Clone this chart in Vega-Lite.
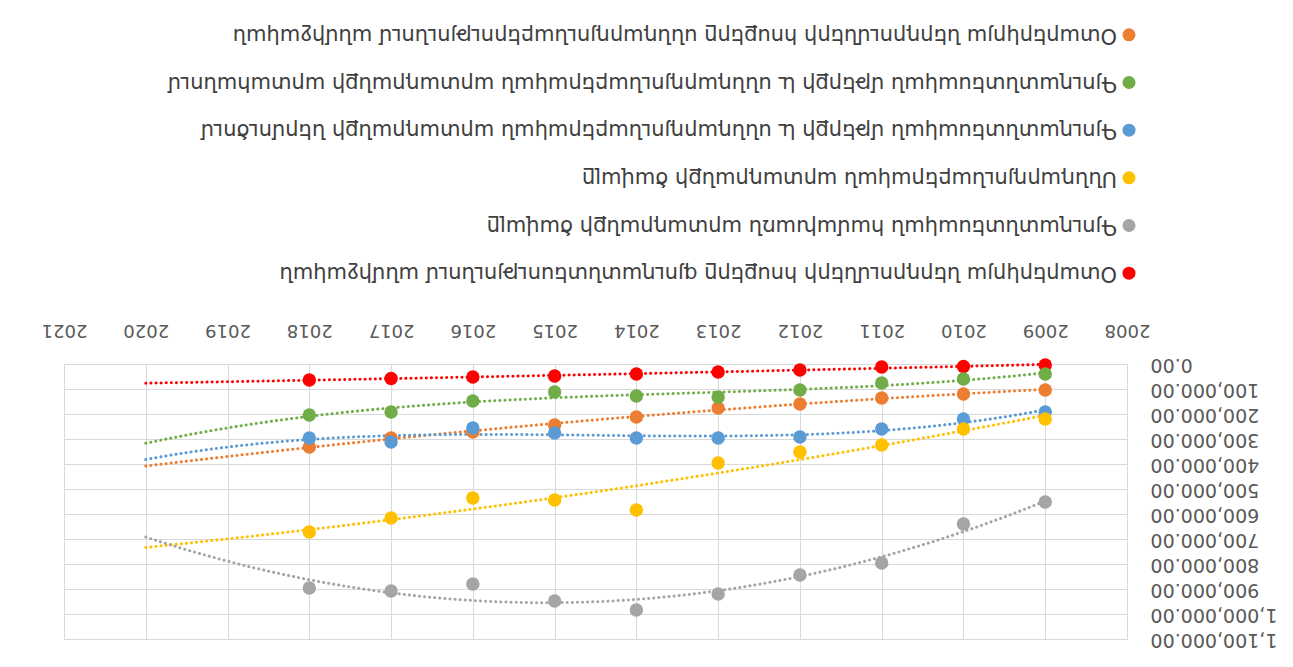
{
  "$schema": "https://vega.github.io/schema/vega-lite/v6.json",
  "background": "white",
  "padding": {"left": 40, "top": 11, "right": 5, "bottom": 5},
  "config": {"font": "DejaVu Sans", "view": {"stroke": null}, "concat": {"spacing": 22}},
  "datasets": {
    "series": [
      {"name": "Օտարերկրյա ներդրումների հոսքերը սննդարդյունաբերությունում անմիջական"},
      {"name": "Գյուղատնտեսական մթերքի և սննդարդյունաբերական արտադրանքի արտահանում"},
      {"name": "Գյուղատնտեսական մթերքի և սննդարդյունաբերական արտադրանքի ներմուծում"},
      {"name": "Սննդարդյունաբերական արտադրանքի ծավալը"},
      {"name": "Գյուղատնտեսական համախառն արտադրանքի ծավալը"},
      {"name": "Օտարերկրյա ներդրումների հոսքերը գյուղատնտեսությունում անմիջական"}
    ],
    "values": [
      {"series": "Օտարերկրյա ներդրումների հոսքերը գյուղատնտեսությունում անմիջական", "year": 2009, "value": 4000},
      {"series": "Օտարերկրյա ներդրումների հոսքերը գյուղատնտեսությունում անմիջական", "year": 2010, "value": 10000},
      {"series": "Օտարերկրյա ներդրումների հոսքերը գյուղատնտեսությունում անմիջական", "year": 2011, "value": 12000},
      {"series": "Օտարերկրյա ներդրումների հոսքերը գյուղատնտեսությունում անմիջական", "year": 2012, "value": 24000},
      {"series": "Օտարերկրյա ներդրումների հոսքերը գյուղատնտեսությունում անմիջական", "year": 2013, "value": 32000},
      {"series": "Օտարերկրյա ներդրումների հոսքերը գյուղատնտեսությունում անմիջական", "year": 2014, "value": 40000},
      {"series": "Օտարերկրյա ներդրումների հոսքերը գյուղատնտեսությունում անմիջական", "year": 2015, "value": 48000},
      {"series": "Օտարերկրյա ներդրումների հոսքերը գյուղատնտեսությունում անմիջական", "year": 2016, "value": 52000},
      {"series": "Օտարերկրյա ներդրումների հոսքերը գյուղատնտեսությունում անմիջական", "year": 2017, "value": 58000},
      {"series": "Օտարերկրյա ներդրումների հոսքերը գյուղատնտեսությունում անմիջական", "year": 2018, "value": 64000},
      {"series": "Օտարերկրյա ներդրումների հոսքերը սննդարդյունաբերությունում անմիջական", "year": 2009, "value": 104000},
      {"series": "Օտարերկրյա ներդրումների հոսքերը սննդարդյունաբերությունում անմիջական", "year": 2010, "value": 120000},
      {"series": "Օտարերկրյա ներդրումների հոսքերը սննդարդյունաբերությունում անմիջական", "year": 2011, "value": 136000},
      {"series": "Օտարերկրյա ներդրումների հոսքերը սննդարդյունաբերությունում անմիջական", "year": 2012, "value": 160000},
      {"series": "Օտարերկրյա ներդրումների հոսքերը սննդարդյունաբերությունում անմիջական", "year": 2013, "value": 176000},
      {"series": "Օտարերկրյա ներդրումների հոսքերը սննդարդյունաբերությունում անմիջական", "year": 2014, "value": 212000},
      {"series": "Օտարերկրյա ներդրումների հոսքերը սննդարդյունաբերությունում անմիջական", "year": 2015, "value": 244000},
      {"series": "Օտարերկրյա ներդրումների հոսքերը սննդարդյունաբերությունում անմիջական", "year": 2016, "value": 272000},
      {"series": "Օտարերկրյա ներդրումների հոսքերը սննդարդյունաբերությունում անմիջական", "year": 2017, "value": 296000},
      {"series": "Օտարերկրյա ներդրումների հոսքերը սննդարդյունաբերությունում անմիջական", "year": 2018, "value": 332000},
      {"series": "Գյուղատնտեսական մթերքի և սննդարդյունաբերական արտադրանքի արտահանում", "year": 2009, "value": 40000},
      {"series": "Գյուղատնտեսական մթերքի և սննդարդյունաբերական արտադրանքի արտահանում", "year": 2010, "value": 60000},
      {"series": "Գյուղատնտեսական մթերքի և սննդարդյունաբերական արտադրանքի արտահանում", "year": 2011, "value": 76000},
      {"series": "Գյուղատնտեսական մթերքի և սննդարդյունաբերական արտադրանքի արտահանում", "year": 2012, "value": 104000},
      {"series": "Գյուղատնտեսական մթերքի և սննդարդյունաբերական արտադրանքի արտահանում", "year": 2013, "value": 132000},
      {"series": "Գյուղատնտեսական մթերքի և սննդարդյունաբերական արտադրանքի արտահանում", "year": 2014, "value": 128000},
      {"series": "Գյուղատնտեսական մթերքի և սննդարդյունաբերական արտադրանքի արտահանում", "year": 2015, "value": 112000},
      {"series": "Գյուղատնտեսական մթերքի և սննդարդյունաբերական արտադրանքի արտահանում", "year": 2016, "value": 148000},
      {"series": "Գյուղատնտեսական մթերքի և սննդարդյունաբերական արտադրանքի արտահանում", "year": 2017, "value": 192000},
      {"series": "Գյուղատնտեսական մթերքի և սննդարդյունաբերական արտադրանքի արտահանում", "year": 2018, "value": 204000},
      {"series": "Գյուղատնտեսական մթերքի և սննդարդյունաբերական արտադրանքի ներմուծում", "year": 2009, "value": 192000},
      {"series": "Գյուղատնտեսական մթերքի և սննդարդյունաբերական արտադրանքի ներմուծում", "year": 2010, "value": 220000},
      {"series": "Գյուղատնտեսական մթերքի և սննդարդյունաբերական արտադրանքի ներմուծում", "year": 2011, "value": 260000},
      {"series": "Գյուղատնտեսական մթերքի և սննդարդյունաբերական արտադրանքի ներմուծում", "year": 2012, "value": 292000},
      {"series": "Գյուղատնտեսական մթերքի և սննդարդյունաբերական արտադրանքի ներմուծում", "year": 2013, "value": 296000},
      {"series": "Գյուղատնտեսական մթերքի և սննդարդյունաբերական արտադրանքի ներմուծում", "year": 2014, "value": 296000},
      {"series": "Գյուղատնտեսական մթերքի և սննդարդյունաբերական արտադրանքի ներմուծում", "year": 2015, "value": 276000},
      {"series": "Գյուղատնտեսական մթերքի և սննդարդյունաբերական արտադրանքի ներմուծում", "year": 2016, "value": 256000},
      {"series": "Գյուղատնտեսական մթերքի և սննդարդյունաբերական արտադրանքի ներմուծում", "year": 2017, "value": 312000},
      {"series": "Գյուղատնտեսական մթերքի և սննդարդյունաբերական արտադրանքի ներմուծում", "year": 2018, "value": 296000},
      {"series": "Սննդարդյունաբերական արտադրանքի ծավալը", "year": 2009, "value": 220000},
      {"series": "Սննդարդյունաբերական արտադրանքի ծավալը", "year": 2010, "value": 260000},
      {"series": "Սննդարդյունաբերական արտադրանքի ծավալը", "year": 2011, "value": 324000},
      {"series": "Սննդարդյունաբերական արտադրանքի ծավալը", "year": 2012, "value": 352000},
      {"series": "Սննդարդյունաբերական արտադրանքի ծավալը", "year": 2013, "value": 396000},
      {"series": "Սննդարդյունաբերական արտադրանքի ծավալը", "year": 2014, "value": 584000},
      {"series": "Սննդարդյունաբերական արտադրանքի ծավալը", "year": 2015, "value": 544000},
      {"series": "Սննդարդյունաբերական արտադրանքի ծավալը", "year": 2016, "value": 536000},
      {"series": "Սննդարդյունաբերական արտադրանքի ծավալը", "year": 2017, "value": 616000},
      {"series": "Սննդարդյունաբերական արտադրանքի ծավալը", "year": 2018, "value": 672000},
      {"series": "Գյուղատնտեսական համախառն արտադրանքի ծավալը", "year": 2009, "value": 552000},
      {"series": "Գյուղատնտեսական համախառն արտադրանքի ծավալը", "year": 2010, "value": 640000},
      {"series": "Գյուղատնտեսական համախառն արտադրանքի ծավալը", "year": 2011, "value": 796000},
      {"series": "Գյուղատնտեսական համախառն արտադրանքի ծավալը", "year": 2012, "value": 844000},
      {"series": "Գյուղատնտեսական համախառն արտադրանքի ծավալը", "year": 2013, "value": 920000},
      {"series": "Գյուղատնտեսական համախառն արտադրանքի ծավալը", "year": 2014, "value": 984000},
      {"series": "Գյուղատնտեսական համախառն արտադրանքի ծավալը", "year": 2015, "value": 948000},
      {"series": "Գյուղատնտեսական համախառն արտադրանքի ծավալը", "year": 2016, "value": 880000},
      {"series": "Գյուղատնտեսական համախառն արտադրանքի ծավալը", "year": 2017, "value": 908000},
      {"series": "Գյուղատնտեսական համախառն արտադրանքի ծավալը", "year": 2018, "value": 896000}
    ]
  },
  "vconcat": [
    {
      "width": 1065,
      "height": 286,
      "data": {"name": "series"},
      "encoding": {
        "y": {"field": "name", "type": "nominal", "sort": null, "scale": {"type": "point", "padding": 0.5}, "axis": null},
        "x": {"datum": 1, "type": "quantitative", "scale": {"domain": [0, 1]}, "axis": null}
      },
      "layer": [
        {
          "mark": {"type": "circle", "size": 170, "opacity": 1},
          "encoding": {
            "color": {"field": "name", "type": "nominal", "legend": null,
              "scale": {
                "domain": [
                  "Օտարերկրյա ներդրումների հոսքերը սննդարդյունաբերությունում անմիջական",
                  "Գյուղատնտեսական մթերքի և սննդարդյունաբերական արտադրանքի արտահանում",
                  "Գյուղատնտեսական մթերքի և սննդարդյունաբերական արտադրանքի ներմուծում",
                  "Սննդարդյունաբերական արտադրանքի ծավալը",
                  "Գյուղատնտեսական համախառն արտադրանքի ծավալը",
                  "Օտարերկրյա ներդրումների հոսքերը գյուղատնտեսությունում անմիջական"
                ],
                "range": ["#ED7D31", "#70AD47", "#5B9BD5", "#FFC000", "#A5A5A5", "#FF0000"]
              }}
          }
        },
        {
          "mark": {"type": "text", "angle": 180, "align": "left", "baseline": "middle", "dx": 12, "fontSize": 21, "color": "#404040"},
          "encoding": {"text": {"field": "name"}}
        }
      ]
    },
    {
      "width": 1063,
      "height": 275,
      "data": {"name": "values"},
      "view": {"stroke": "#D9D9D9"},
      "encoding": {
        "x": {"field": "year", "type": "quantitative",
          "scale": {"domain": [2008, 2021], "reverse": true, "nice": false, "zero": false},
          "axis": {"orient": "top", "values": [2008, 2009, 2010, 2011, 2012, 2013, 2014, 2015, 2016, 2017, 2018, 2019, 2020, 2021],
            "format": "d", "labelAngle": 180, "labelAlign": "center", "labelBaseline": "middle", "labelPadding": 35,
            "ticks": false, "domain": false, "grid": true, "gridColor": "#D9D9D9", "labelFontSize": 18, "labelColor": "#595959",
            "title": null, "labelFlush": false, "labelOverlap": false}},
        "y": {"field": "value", "type": "quantitative",
          "scale": {"domain": [0, 1100000], "reverse": true, "nice": false},
          "axis": {"orient": "right", "values": [0, 100000, 200000, 300000, 400000, 500000, 600000, 700000, 800000, 900000, 1000000, 1100000],
            "format": ",.2f", "labelAngle": 180, "labelAlign": "right", "labelBaseline": "middle", "labelPadding": 23,
            "ticks": false, "domain": false, "grid": true, "gridColor": "#D9D9D9", "labelFontSize": 19, "labelColor": "#595959",
            "title": null, "labelOverlap": false}},
        "color": {"field": "series", "type": "nominal", "legend": null,
          "scale": {
            "domain": [
              "Օտարերկրյա ներդրումների հոսքերը սննդարդյունաբերությունում անմիջական",
              "Գյուղատնտեսական մթերքի և սննդարդյունաբերական արտադրանքի արտահանում",
              "Գյուղատնտեսական մթերքի և սննդարդյունաբերական արտադրանքի ներմուծում",
              "Սննդարդյունաբերական արտադրանքի ծավալը",
              "Գյուղատնտեսական համախառն արտադրանքի ծավալը",
              "Օտարերկրյա ներդրումների հոսքերը գյուղատնտեսությունում անմիջական"
            ],
            "range": ["#ED7D31", "#70AD47", "#5B9BD5", "#FFC000", "#A5A5A5", "#FF0000"]
          }}
      },
      "layer": [
        {
          "transform": [
            {"filter": {"field": "series", "oneOf": [
              "Օտարերկրյա ներդրումների հոսքերը սննդարդյունաբերությունում անմիջական",
              "Սննդարդյունաբերական արտադրանքի ծավալը",
              "Գյուղատնտեսական համախառն արտադրանքի ծավալը",
              "Օտարերկրյա ներդրումների հոսքերը գյուղատնտեսությունում անմիջական"
            ]}},
            {"regression": "value", "on": "year", "groupby": ["series"], "method": "poly", "order": 2, "extent": [2009, 2020]}
          ],
          "mark": {"type": "line", "strokeDash": [0.1, 5], "strokeCap": "round", "strokeWidth": 3}
        },
        {
          "transform": [
            {"filter": {"field": "series", "oneOf": [
              "Գյուղատնտեսական մթերքի և սննդարդյունաբերական արտադրանքի արտահանում",
              "Գյուղատնտեսական մթերքի և սննդարդյունաբերական արտադրանքի ներմուծում"
            ]}},
            {"regression": "value", "on": "year", "groupby": ["series"], "method": "poly", "order": 3, "extent": [2009, 2020]}
          ],
          "mark": {"type": "line", "strokeDash": [0.1, 5], "strokeCap": "round", "strokeWidth": 3}
        },
        {
          "mark": {"type": "circle", "size": 180, "opacity": 1}
        }
      ]
    }
  ]
}
